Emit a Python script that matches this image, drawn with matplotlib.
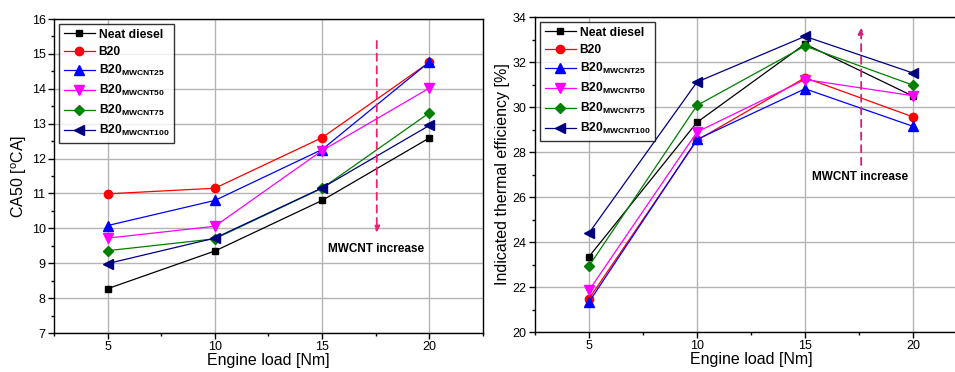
import matplotlib
matplotlib.use('Agg')
import matplotlib.pyplot as plt
from matplotlib.ticker import MultipleLocator

plt.rcParams['font.family'] = ['Liberation Sans', 'DejaVu Sans']
plt.rcParams['mathtext.fontset'] = 'custom'
plt.rcParams['mathtext.rm'] = 'Liberation Sans'
plt.rcParams['mathtext.bf'] = 'Liberation Sans:bold'

# Dados
engine_load = [5, 10, 15, 20]
series_names = ['Neat diesel', 'B20', 'B20$_{\\mathbf{MWCNT25}}$', 'B20$_{\\mathbf{MWCNT50}}$',
                'B20$_{\\mathbf{MWCNT75}}$', 'B20$_{\\mathbf{MWCNT100}}$']

ca50_neat = [8.27, 9.35, 10.80, 12.59]
ca50_b20 = [10.99, 11.15, 12.60, 14.76]
ca50_mw25 = [10.08, 10.80, 12.26, 14.77]
ca50_mw50 = [9.72, 10.06, 12.23, 14.02]
ca50_mw75 = [9.36, 9.70, 11.15, 13.31]
ca50_mw100 = [8.99, 9.72, 11.16, 12.95]

ite_neat = [23.35, 29.32, 32.80, 30.48]
ite_b20 = [21.48, 28.52, 31.30, 29.56]
ite_mw25 = [21.33, 28.56, 30.81, 29.14]
ite_mw50 = [21.85, 28.89, 31.22, 30.50]
ite_mw75 = [22.93, 30.07, 32.71, 30.97]
ite_mw100 = [24.40, 31.11, 33.14, 31.51]

colors = ['black', '#ff0000', '#0000ff', '#ff00ff', '#008000', '#000080']
markers = ['s', 'o', '^', 'v', 'D', '<']
msizes = [5, 6, 6.5, 6.5, 5.3, 6.5]


def style_axes(ax):
    ax.set_xlim(2.5, 22.5)
    ax.set_xticks(engine_load)
    ax.xaxis.set_minor_locator(MultipleLocator(2.5))
    ax.grid(True, which='major', color='#b4b4b4', linewidth=1.0)
    ax.set_axisbelow(True)
    ax.tick_params(which='major', direction='out', length=4, width=1, labelsize=9, pad=2)
    ax.tick_params(which='minor', direction='out', length=2.5, width=1)
    for s in ax.spines.values():
        s.set_linewidth(1.0)
    ax.set_xlabel('Engine load [Nm]', fontsize=11.5, labelpad=0)


def draw_series(ax, data):
    for vals, name, c, m, ms in zip(data, series_names, colors, markers, msizes):
        ax.plot(engine_load, vals, color=c, marker=m, markersize=ms, linewidth=0.9,
                label=name, clip_on=False, zorder=3)
    leg = ax.legend(loc='upper left', frameon=True, fancybox=False,
                    edgecolor='black', borderpad=0.35, labelspacing=0.42, handlelength=2.6,
                    handletextpad=0.3, borderaxespad=0.45, prop={'weight': 'bold', 'size': 8.7})
    leg.get_frame().set_linewidth(1.0)


fig = plt.figure(figsize=(9.55, 3.72), dpi=100)

# Painel esquerdo - CA50
ax1 = fig.add_axes([0.0565, 0.1048, 0.4492, 0.844])
draw_series(ax1, [ca50_neat, ca50_b20, ca50_mw25, ca50_mw50, ca50_mw75, ca50_mw100])
style_axes(ax1)
ax1.set_ylim(7, 16)
ax1.yaxis.set_major_locator(MultipleLocator(1))
ax1.yaxis.set_minor_locator(MultipleLocator(0.5))
ax1.set_ylabel('CA50 [$^{\\mathrm{o}}$CA]', fontsize=11.5, labelpad=2)
ax1.annotate('', xy=(17.55, 9.8), xytext=(17.55, 15.45),
             arrowprops=dict(arrowstyle='-|>', color='#f0206e', linestyle=(0, (4, 3)),
                             linewidth=1.3, mutation_scale=9))
ax1.text(17.5, 9.42, 'MWCNT increase', fontsize=8.5, fontweight='bold', ha='center', va='center')

# Painel direito - eficiencia termica
ax2 = fig.add_axes([0.5602, 0.1075, 0.4524, 0.8468])
draw_series(ax2, [ite_neat, ite_b20, ite_mw25, ite_mw50, ite_mw75, ite_mw100])
style_axes(ax2)
ax2.set_ylim(20, 34)
ax2.yaxis.set_major_locator(MultipleLocator(2))
ax2.yaxis.set_minor_locator(MultipleLocator(1))
ax2.set_ylabel('Indicated thermal efficiency [%]', fontsize=11.5, labelpad=2)
ax2.annotate('', xy=(17.6, 33.65), xytext=(17.6, 27.3),
             arrowprops=dict(arrowstyle='-|>', color='#d0207a', linestyle=(0, (4, 3)),
                             linewidth=1.3, mutation_scale=9))
ax2.text(17.55, 26.9, 'MWCNT increase', fontsize=8.5, fontweight='bold', ha='center', va='center')

fig.savefig('out.png', dpi=100)
